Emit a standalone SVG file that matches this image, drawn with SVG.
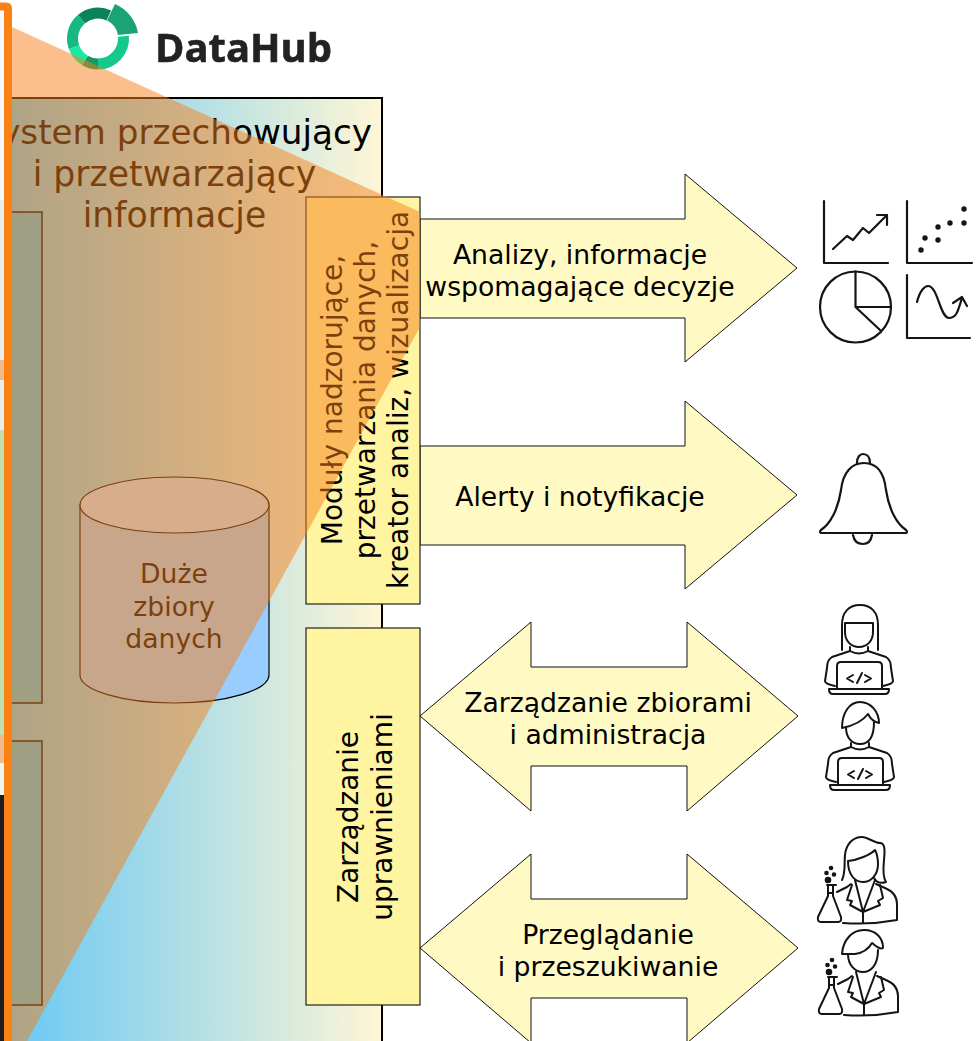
<svg xmlns="http://www.w3.org/2000/svg" width="979" height="1041" viewBox="0 0 979 1041">
<style>
text{font-family:"DejaVu Sans",sans-serif;fill:#000;text-anchor:middle}
.t26{font-size:26.670px}
.t28{font-size:28px}
.title{font-size:34.670px}
.box{fill:#fff4a0;stroke:#222;stroke-width:1.200}
.arrow{fill:#fff9c4;stroke:#111;stroke-width:1}
.ico{fill:none;stroke:#141414;stroke-width:2.200;stroke-linecap:round;stroke-linejoin:round}
.ico2{fill:none;stroke:#141414;stroke-width:2;stroke-linecap:round;stroke-linejoin:round}
.src{fill:#47beec;stroke:#000;stroke-width:1.500}
</style>
<defs>
<linearGradient id="bg" gradientUnits="userSpaceOnUse" x1="10" y1="0" x2="382" y2="0">
<stop offset="0" stop-color="#68c8f4"/><stop offset="1" stop-color="#fff6d6"/>
</linearGradient>
<filter id="soft" x="-5%" y="-5%" width="110%" height="110%"><feGaussianBlur stdDeviation="0.5"/></filter>
<g id="devbody">
<path d="M850,647V651Q859,656 868,651V647M850,651L832,657Q827,660 827,668L825,681Q825,684 835,686M868,651L886,657Q891,660 891,668L893,681Q893,684 883,686"/>
<path d="M837,688V666Q837,662 841,662H878Q882,662 882,666V688"/>
<path d="M829,689H889Q889,694 885,694H833Q829,694 829,689Z"/>
<path d="M853,675L847,678.500L853,682M857,683L862,673M865,675L871,678.500L865,682"/>
</g>
<g id="scibody">
<path d="M843,923Q870,925 897,920V904Q897,893 885,888L876,884M837,892L847,887M851,884L847,887"/>
<path d="M855,880L863,912L875,880M852,885L847,900L852,901L850,905L863,912L880,905L878,901L883,898L880,885M863,912V923"/>
<path d="M827,885H836M828,885V896L818,917Q817,922 821,922H838Q842,922 841,917L833,896V885M828,893H833"/>
<circle cx="828" cy="880" r="2.300" fill="#141414"/><circle cx="826.500" cy="873" r="1.300" fill="#141414"/><circle cx="834" cy="874.500" r="1.300" fill="#141414"/><circle cx="831" cy="868" r="1.300" fill="#141414"/>
</g>
</defs>
<rect width="979" height="1041" fill="#fff"/>

<g id="logo">
<g filter="url(#soft)">
<path d="M115,4A39,39 0 0 1 138,33L118,35A20,20 0 0 0 107,20.500Z" fill="#1fa374"/>
<g fill="none" stroke-width="11">
<path d="M123.400,36.300A25.500,25.500 0 0 1 98,64" stroke="#12c98a"/>
<path d="M98,64A25.500,25.500 0 0 1 85,60.500" stroke="#129a5c"/>
<path d="M85,60.500A25.500,25.500 0 0 1 74,47.200" stroke="#1fe89f"/>
<path d="M74,47.200A25.500,25.500 0 0 1 81.600,19" stroke="#12b884"/>
<path d="M81.600,19A25.500,25.500 0 0 1 108.800,15.400" stroke="#0e8258"/>
</g>
<text x="243.500" y="62" style="font-family:'Open Sans',sans-serif;font-weight:700;font-size:40px;fill:#222;stroke:#222;stroke-width:0.600" textLength="177" lengthAdjust="spacingAndGlyphs">DataHub</text>
</g>
</g>

<g id="storage-system">
<rect x="-2" y="98" width="384" height="960" fill="url(#bg)" stroke="#000" stroke-width="2"/>
<text x="372" y="144" style="text-anchor:end;font-size:34.200px">ystem przechowujący</text>
<text class="title" x="174.500" y="186">i przetwarzający</text>
<text class="title" x="174.500" y="227">informacje</text>
</g>

<g id="source-top"><rect class="src" x="-10" y="212" width="52" height="491"/></g>
<g id="source-bottom"><rect class="src" x="-10" y="741" width="52" height="264"/></g>

<g id="background-strip">
<rect x="0" y="0" width="4" height="10" fill="#fff"/>
<rect x="0" y="10" width="4" height="190" fill="#f6f8fb"/>
<rect x="0" y="200" width="4" height="230" fill="#e9eff0"/>
<rect x="0" y="360" width="4" height="20" fill="#efb98c"/>
<rect x="0" y="430" width="4" height="305" fill="#bfe0b0"/>
<rect x="0" y="735" width="4" height="28" fill="#efb98c"/>
<rect x="0" y="763" width="4" height="32" fill="#f0f4ef"/>
<rect x="0" y="795" width="4" height="246" fill="#1c1c22"/>
</g>

<g id="big-data">
<path d="M80,505V675C80,690 122,703 174.500,703C227,703 269,690 269,675V505Z" fill="#99ccff" stroke="#000" stroke-width="1.200"/>
<ellipse cx="174.500" cy="505" rx="94.500" ry="28" fill="#b8dbff" stroke="#000" stroke-width="1.200"/>
<text class="t26" x="174" y="583">Duże</text>
<text class="t26" x="174" y="616">zbiory</text>
<text class="t26" x="174" y="648">danych</text>
</g>

<g id="connectors">
<g id="arrow-analytics">
<path class="arrow" d="M420,219H685V174L797,268L685,362V318H420Z"/>
<text class="t26" x="580" y="264">Analizy, informacje</text>
<text class="t26" x="580" y="296">wspomagające decyzje</text>
</g>
<g id="arrow-alerts">
<path class="arrow" d="M420,446H685V401L797,495L685,589V545H420Z"/>
<text class="t26" x="580" y="506">Alerty i notyfikacje</text>
</g>
<g id="arrow-admin">
<path class="arrow" d="M420,716L531,622V667H687V622L798,716L687,811V766H531V811Z"/>
<text class="t26" x="608" y="712">Zarządzanie zbiorami</text>
<text class="t26" x="608" y="744">i administracja</text>
</g>
<g id="arrow-browse">
<path class="arrow" d="M420,948L531,854V899H687V854L798,948L687,1043V998H531V1043Z"/>
<text class="t26" x="608" y="944">Przeglądanie</text>
<text class="t26" x="608" y="976">i przeszukiwanie</text>
</g>
</g>

<g id="modules">
<rect class="box" x="306" y="197" width="114" height="407"/>
<g transform="translate(0,400) rotate(-90)">
<text class="t28" x="0" y="342">Moduły nadzorujące,</text>
<text class="t28" x="0" y="375">przetwarzania danych,</text>
<text class="t28" x="0" y="408">kreator analiz, wizualizacja</text>
</g>
</g>

<g id="permissions">
<rect class="box" x="306" y="628" width="114" height="377"/>
<g transform="translate(0,817) rotate(-90)">
<text class="t28" x="0" y="358">Zarządzanie</text>
<text class="t28" x="0" y="392">uprawnieniami</text>
</g>
</g>

<g id="icon-charts" class="ico">
<path d="M824,201V263H888"/>
<path d="M833,249L847,236L853,240L863,228L869,233L887,215M877,215H887V225"/>
<path d="M907,201V263H972"/>
<g fill="#141414" stroke="none">
<circle cx="921" cy="250" r="2.700"/><circle cx="925" cy="238" r="2.700"/><circle cx="938" cy="227" r="2.700"/><circle cx="938" cy="240" r="2.700"/><circle cx="950" cy="223" r="2.700"/><circle cx="964" cy="223" r="2.700"/><circle cx="964" cy="209" r="2.700"/>
</g>
<circle cx="855.500" cy="307" r="35.500"/>
<path d="M855.500,271.500V307H891M855.500,307L880,330"/>
<path d="M907,275V338H970"/>
<path d="M917,302C920,290 925,286 928,286C938,286 940,318 949,318C957,318 958,310 962,298M953,303L962,297L967,306"/>
</g>

<g id="icon-bell" class="ico">
<path d="M821,533Q819,532 821,530C830,524 838,510 841,490C843,472 852,463 864,463C876,463 884,472 886,490C889,510 897,524 906,530Q908,532 906,533Z"/>
<path d="M857,463C857,457 860,454 863,454C867,454 870,457 870,463M853,535C854,541 858,544 863,544C868,544 871,541 872,535"/>
</g>

<g id="icon-developers" class="ico2">
<path d="M842,650V625C842,612 849,605 860,605C871,605 878,612 878,625V650"/>
<path d="M845,623H873V632C873,641 867,647 859,647C851,647 845,641 845,632Z"/>
<use href="#devbody"/>
<path d="M842,728C842,712 850,702 860,702C871,702 879,712 879,723C874,722 870,718 868,714C862,722 852,726 842,728Z"/>
<path d="M846,727C846,738 852,744 860,744C868,744 874,738 874,722"/>
<use href="#devbody" transform="translate(1,96)"/>
</g>

<g id="icon-analysts" class="ico2">
<path d="M842,880C846,872 844,862 845,855C846,845 852,837 862,837C868,837 874,843 880,843C885,843 885,850 884,860C883,870 883,878 886,882C880,884 876,882 874,878"/>
<path d="M848,861C858,860 870,855 875,850C877,854 878,858 878,864C878,875 871,882 863,882C855,882 848,875 848,861Z"/>
<use href="#scibody"/>
<path d="M842,954C843,940 852,930 864,930C876,930 883,938 883,948C880,950 876,946 872,943C868,950 862,953 855,954Z"/>
<path d="M848,954C848,965 855,972 863,972C871,972 878,965 878,950"/>
<use href="#scibody" transform="translate(1,92)"/>
</g>

<g id="overlay">
<polygon points="12,27 420,212 420,327 27,1041 12,1041" fill="#f5801a" fill-opacity="0.5"/>
<path d="M0,6.500H6Q8,6.500 8,8.500V1041" fill="none" stroke="#fa8214" stroke-width="8"/>
</g>
</svg>
